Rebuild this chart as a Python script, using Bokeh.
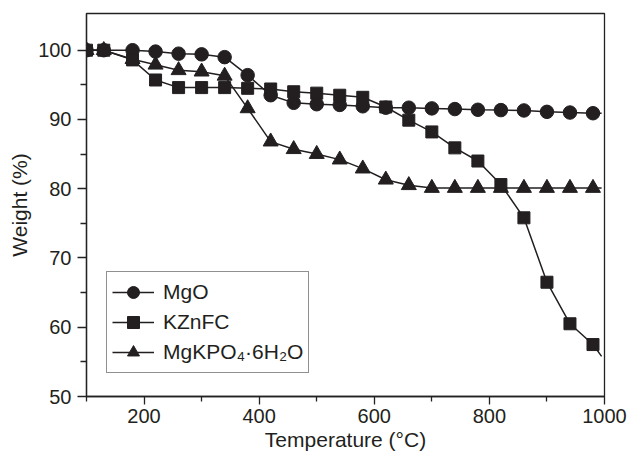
from bokeh.plotting import figure
from bokeh.models import Range1d, FixedTicker, Legend, LegendItem
from bokeh.embed import file_html
from bokeh.resources import INLINE

# ---- data ----
temps = [100, 130, 180, 220, 260, 300, 340, 380, 420, 460, 500, 540,
         580, 620, 660, 700, 740, 780, 820, 860, 900, 940, 980]
mgo = [100, 100, 100, 99.8, 99.5, 99.4, 99.0, 96.4, 93.5, 92.4, 92.2, 92.1,
       91.9, 91.7, 91.7, 91.6, 91.5, 91.4, 91.35, 91.3, 91.1, 91.0, 90.9]
kznfc = [100, 100, 98.6, 95.7, 94.6, 94.6, 94.6, 94.5, 94.4, 94.0, 93.8, 93.5,
         93.2, 91.8, 89.9, 88.2, 85.9, 84.0, 80.6, 75.8, 66.5, 60.5, 57.5]
mgkpo = [100, 100, 98.7, 97.9, 97.1, 96.9, 96.3, 91.6, 86.8, 85.7, 85.0, 84.2,
         82.9, 81.3, 80.5, 80.1, 80.1, 80.1, 80.1, 80.1, 80.1, 80.1, 80.1]
# where each curve ends (past the last marker)
end_temp = 995
end_mgo = 90.9
end_kznfc = 55.8
end_mgkpo = 80.1

x_major = [200, 400, 600, 800, 1000]
x_minor = [100, 300, 500, 700, 900]
y_major = [50, 60, 70, 80, 90, 100]
y_minor = [55, 65, 75, 85, 95]

labels = ["MgO", "KZnFC", "MgKPO\u2084\u00b76H\u2082O"]

FONT = "Liberation Sans"
INK = "#231f20"

p = figure(width=629, height=456, output_backend="svg", toolbar_location=None,
           x_range=Range1d(100, 1000), y_range=Range1d(50, 105.3),
           min_border_left=86, min_border_right=25, min_border_top=13,
           min_border_bottom=60)
p.grid.visible = False
p.outline_line_color = "#222222"
p.outline_line_width = 1.3
p.background_fill_color = "white"
p.border_fill_color = "white"

for ax in (p.xaxis[0], p.yaxis[0]):
    ax.axis_line_color = "#222222"
    ax.axis_line_width = 1.3
    ax.major_tick_line_color = "#222222"
    ax.minor_tick_line_color = "#222222"
    ax.major_tick_line_width = 1.3
    ax.minor_tick_line_width = 1.3
    ax.major_tick_in = 0
    ax.minor_tick_in = 0
    ax.major_label_text_font = FONT
    ax.major_label_text_font_size = "20px"
    ax.major_label_text_color = INK
    ax.axis_label_text_font = FONT
    ax.axis_label_text_font_size = "21px"
    ax.axis_label_text_font_style = "normal"
    ax.axis_label_text_color = INK

p.xaxis.ticker = FixedTicker(ticks=x_major, minor_ticks=x_minor)
p.xaxis.major_tick_out = 8
p.xaxis.minor_tick_out = 5
p.xaxis.major_label_standoff = 4
p.xaxis.axis_label = "Temperature (\u00b0C)"
p.xaxis.axis_label_standoff = 2

p.yaxis.ticker = FixedTicker(ticks=y_major, minor_ticks=y_minor)
p.yaxis.major_tick_out = 9
p.yaxis.minor_tick_out = 6
p.yaxis.major_label_standoff = 6
p.yaxis.axis_label = "Weight (%)"
p.yaxis.axis_label_standoff = 4

# lines
l_mgo = p.line(temps + [end_temp], mgo + [end_mgo], line_color=INK, line_width=1.5)
l_kzn = p.line(temps + [end_temp], kznfc + [end_kznfc], line_color=INK, line_width=1.5)
l_mgk = p.line(temps + [end_temp], mgkpo + [end_mgkpo], line_color=INK, line_width=1.5)

# markers
s_mgk = p.scatter(temps, mgkpo, marker="triangle", size=15, fill_color=INK, line_color=INK)
s_mgo = p.scatter(temps, mgo, marker="circle", size=13.5, fill_color=INK, line_color=INK)
s_kzn = p.scatter(temps, kznfc, marker="square", size=12, fill_color=INK, line_color=INK)

legend = Legend(items=[
    LegendItem(label=labels[0], renderers=[l_mgo, s_mgo]),
    LegendItem(label=labels[1], renderers=[l_kzn, s_kzn]),
    LegendItem(label=labels[2], renderers=[l_mgk, s_mgk]),
], location=(20, 23))
legend.label_text_font = FONT
legend.label_text_font_size = "21px"
legend.label_text_color = INK
legend.label_height = 30
legend.glyph_height = 30
legend.glyph_width = 42
legend.label_standoff = 9
legend.padding = 5
legend.spacing = 0
legend.margin = 0
legend.border_line_color = INK
legend.border_line_width = 1.2
legend.background_fill_color = "white"
legend.background_fill_alpha = 1.0
p.add_layout(legend)

open("out.html", "w").write(file_html(p, INLINE))
